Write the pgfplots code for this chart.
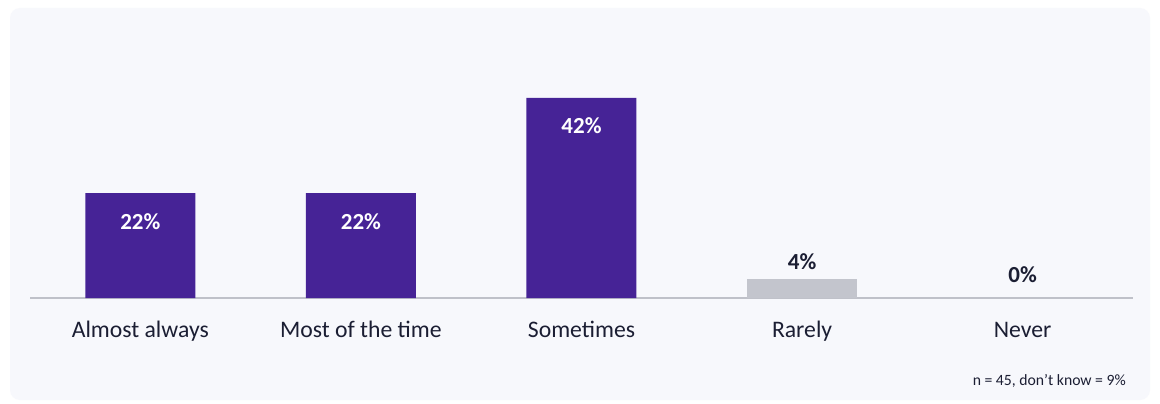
\documentclass[border=0pt]{standalone}
\usepackage{pgfplots}
\pgfplotsset{compat=1.18}
\usepackage{fontspec}
\setmainfont{Carlito}
\definecolor{panel}{HTML}{F7F8FC}
\definecolor{barpurple}{HTML}{462396}
\definecolor{bargray}{HTML}{C3C5CD}
\definecolor{axisgray}{HTML}{BFC1C9}
\definecolor{txt}{HTML}{1B1E33}
\begin{document}
\begin{tikzpicture}[x=1bp,y=1bp]
\useasboundingbox (0,0) rectangle (1160,403);
\fill[white] (0,0) rectangle (1160,403);
\fill[panel, rounded corners=10bp] (10,3) rectangle (1150,395);
\begin{axis}[
  at={(30bp,105bp)}, anchor=south west,
  scale only axis, width=1103bp, height=238.1bp,
  xmin=-0.5, xmax=4.5, ymin=0, ymax=50,
  axis x line=bottom, axis y line=none,
  x axis line style={draw=axisgray, line width=1.5bp, -},
  xtick={0,1,2,3,4},
  xticklabels={Almost always, Most of the time, Sometimes, Rarely, Never},
  major tick length=0pt,
  xticklabel style={anchor=base, yshift=-39bp, inner sep=0pt, text=txt, font=\fontsize{23.7bp}{26bp}\selectfont},
  ytick=\empty,
  ybar, bar width=110bp, bar shift=0pt,
  clip=false,
  /pgf/number format/assume math mode=true,
]
\addplot[fill=barpurple, draw=none,
  nodes near coords={\pgfmathprintnumber[assume math mode=true]{\pgfplotspointmeta}\%},
  nodes near coords style={anchor=center, yshift=-28bp, text=white, font=\bfseries\fontsize{23bp}{26bp}\selectfont},
] coordinates {(0,22) (1,22) (2,42)};
\addplot[fill=bargray, draw=none,
  nodes near coords={\pgfmathprintnumber[assume math mode=true]{\pgfplotspointmeta}\%},
  nodes near coords style={anchor=center, yshift=17bp, text=txt, font=\bfseries\fontsize{23bp}{26bp}\selectfont},
] coordinates {(3,4)};
\addplot[fill=bargray, draw=none,
  nodes near coords={\pgfmathprintnumber[assume math mode=true]{\pgfplotspointmeta}\%},
  nodes near coords style={anchor=center, yshift=23bp, text=txt, font=\bfseries\fontsize{23bp}{26bp}\selectfont},
] coordinates {(4,0)};
\end{axis}
\node[anchor=base east, inner sep=0pt, text=txt, font=\fontsize{15.7bp}{18bp}\selectfont] at (1126,18) {n = 45, don’t know = 9\%};
\end{tikzpicture}
\end{document}
